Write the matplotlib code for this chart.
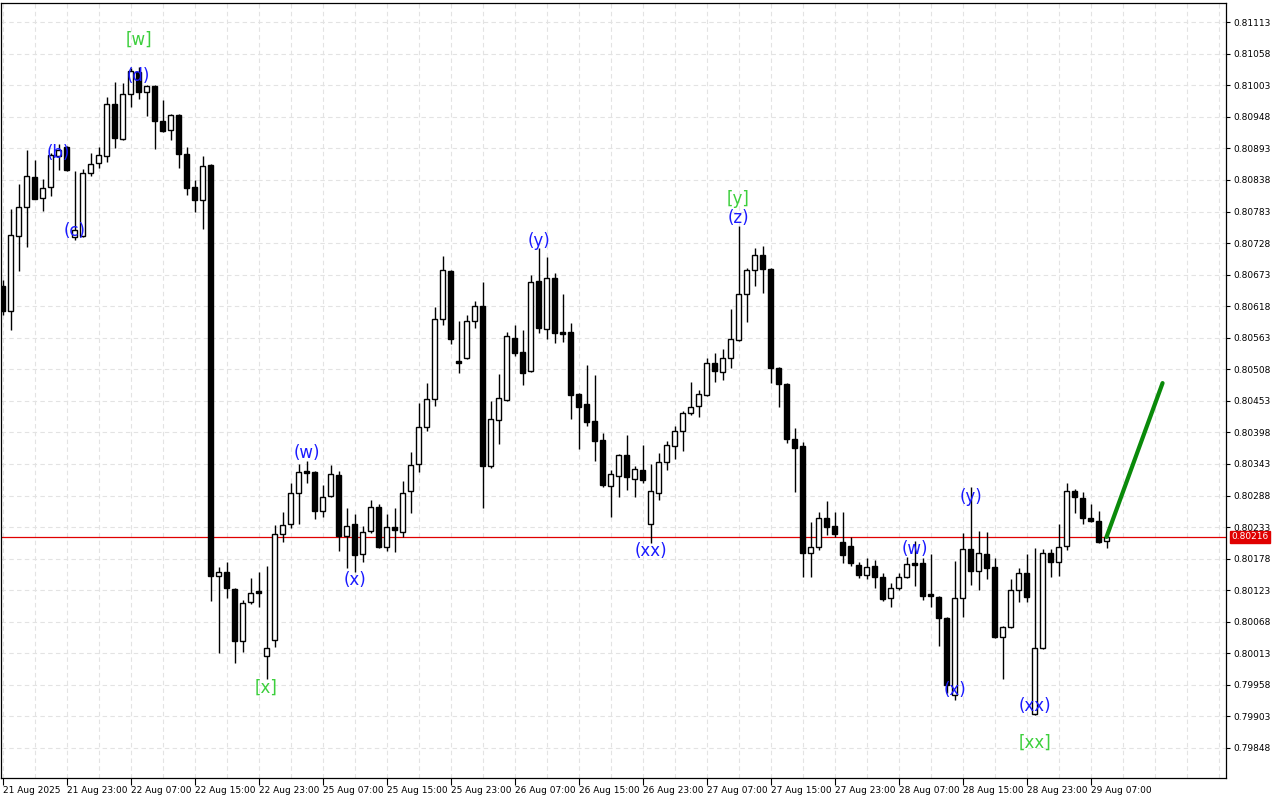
import matplotlib
matplotlib.use("Agg")
import matplotlib.pyplot as plt
import numpy as np

# hourly candles, 21 Aug 15:00 .. 29 Aug 09:00 (prices in points, 1e-5)
opens = [80653, 80609, 80740, 80791, 80843, 80806, 80825, 80879, 80895, 80738,
         80740, 80850, 80867, 80879, 80970, 80909, 80988, 81026, 80991, 81001,
         80940, 80925, 80951, 80883, 80825, 80803, 80864, 80148, 80155, 80125,
         80034, 80102, 80122, 80008, 80036, 80221, 80238, 80292, 80331, 80329,
         80261, 80287, 80324, 80217, 80238, 80186, 80226, 80268, 80198, 80233,
         80224, 80296, 80343, 80407, 80456, 80595, 80679, 80522, 80528, 80592,
         80618, 80339, 80419, 80454, 80562, 80538, 80505, 80662, 80578, 80667,
         80573, 80573, 80465, 80447, 80418, 80385, 80304, 80322, 80359, 80317,
         80332, 80238, 80292, 80346, 80374, 80400, 80432, 80444, 80463, 80519,
         80503, 80528, 80559, 80639, 80681, 80707, 80683, 80510, 80482, 80386,
         80374, 80188, 80198, 80249, 80235, 80207, 80200, 80167, 80149, 80165,
         80146, 80109, 80127, 80146, 80170, 80170, 80116, 80111, 80074, 79940,
         80109, 80195, 80156, 80186, 80163, 80041, 80059, 80123, 80153, 79907,
         80022, 80188, 80172, 80200, 80296, 80284, 80249, 80244, 80209]
highs = [80663, 80787, 80831, 80890, 80873, 80839, 80885, 80900, 80897, 80853,
         80857, 80885, 80895, 80982, 81008, 81007, 81033, 81035, 81003, 81003,
         80977, 80953, 80953, 80895, 80838, 80879, 80866, 80163, 80172, 80127,
         80106, 80144, 80155, 80165, 80237, 80259, 80310, 80343, 80348, 80331,
         80306, 80341, 80331, 80266, 80256, 80235, 80280, 80273, 80256, 80266,
         80313, 80364, 80449, 80484, 80616, 80705, 80681, 80592, 80602, 80627,
         80660, 80453, 80500, 80573, 80585, 80576, 80672, 80719, 80703, 80676,
         80639, 80588, 80467, 80515, 80498, 80397, 80332, 80360, 80393, 80339,
         80376, 80343, 80362, 80383, 80409, 80435, 80486, 80472, 80528, 80536,
         80543, 80613, 80758, 80684, 80719, 80723, 80684, 80512, 80484, 80406,
         80381, 80242, 80259, 80278, 80259, 80259, 80216, 80172, 80179, 80176,
         80153, 80135, 80153, 80181, 80209, 80179, 80186, 80113, 80076, 80174,
         80223, 80303, 80226, 80224, 80179, 80061, 80142, 80162, 80186, 80196,
         80195, 80195, 80238, 80310, 80299, 80294, 80273, 80261, 80218]
lows = [80602, 80576, 80679, 80721, 80805, 80784, 80810, 80855, 80853, 80733,
        80738, 80845, 80859, 80869, 80893, 80907, 80965, 80979, 80949, 80892,
        80921, 80907, 80859, 80812, 80782, 80752, 80104, 80014, 80109, 79996,
        80015, 80099, 80094, 79968, 80024, 80207, 80231, 80238, 80310, 80247,
        80250, 80285, 80191, 80162, 80155, 80172, 80223, 80196, 80191, 80189,
        80216, 80257, 80329, 80400, 80444, 80585, 80552, 80501, 80526, 80580,
        80266, 80336, 80378, 80453, 80531, 80480, 80503, 80571, 80561, 80554,
        80555, 80421, 80369, 80409, 80348, 80303, 80250, 80285, 80298, 80285,
        80310, 80205, 80280, 80332, 80352, 80366, 80428, 80425, 80461, 80486,
        80489, 80510, 80557, 80590, 80653, 80641, 80484, 80442, 80379, 80294,
        80146, 80146, 80193, 80219, 80216, 80170, 80165, 80144, 80142, 80127,
        80104, 80094, 80123, 80144, 80130, 80106, 80094, 80026, 79944, 79932,
        80076, 80132, 80123, 80142, 80040, 79968, 80057, 80102, 80102, 79905,
        80020, 80146, 80148, 80193, 80257, 80238, 80242, 80205, 80196]
closes = [80609, 80742, 80791, 80845, 80805, 80824, 80881, 80890, 80855, 80751,
          80850, 80866, 80881, 80970, 80911, 80988, 81028, 80991, 81001, 80940,
          80923, 80951, 80883, 80824, 80803, 80862, 80148, 80155, 80127, 80034,
          80101, 80118, 80118, 80022, 80221, 80237, 80292, 80329, 80327, 80261,
          80285, 80325, 80217, 80235, 80184, 80224, 80268, 80198, 80233, 80228,
          80292, 80341, 80407, 80456, 80595, 80681, 80561, 80519, 80592, 80618,
          80339, 80421, 80458, 80566, 80536, 80501, 80660, 80580, 80667, 80571,
          80569, 80463, 80442, 80416, 80383, 80306, 80325, 80359, 80320, 80334,
          80315, 80296, 80346, 80376, 80400, 80432, 80442, 80465, 80519, 80505,
          80528, 80561, 80639, 80681, 80707, 80683, 80510, 80482, 80386, 80371,
          80188, 80198, 80249, 80233, 80221, 80184, 80170, 80149, 80163, 80146,
          80108, 80127, 80146, 80169, 80167, 80113, 80113, 80074, 79958, 80109,
          80195, 80156, 80188, 80162, 80041, 80059, 80123, 80153, 80111, 80022,
          80188, 80172, 80198, 80296, 80285, 80249, 80244, 80207, 80216]

last_price = 0.80216
forecast_idx = [138, 145]
forecast_px = [80216, 80484]

# wave labels: (text, candle index, price, colour)
wave_labels = [
    ("(b)", 7, 80885, "blue"), ("(c)", 9, 80749, "blue"), ("(d)", 17, 81019, "blue"),
    ("[w]", 17, 81082, "green"), ("[x]", 33, 79953, "green"), ("(w)", 38, 80362, "blue"),
    ("(x)", 44, 80141, "blue"), ("(y)", 67, 80731, "blue"), ("(xx)", 81, 80191, "blue"),
    ("[y]", 92, 80805, "green"), ("(z)", 92, 80772, "blue"), ("(w)", 114, 80195, "blue"),
    ("(y)", 121, 80285, "blue"), ("(x)", 119, 79949, "blue"), ("(xx)", 129, 79921, "blue"),
    ("[xx]", 129, 79858, "green"),
]

xtick_idx = list(range(0, 137, 8))
xtick_labels = ["21 Aug 2025", "21 Aug 23:00", "22 Aug 07:00", "22 Aug 15:00",
                "22 Aug 23:00", "25 Aug 07:00", "25 Aug 15:00", "25 Aug 23:00",
                "26 Aug 07:00", "26 Aug 15:00", "26 Aug 23:00", "27 Aug 07:00",
                "27 Aug 15:00", "27 Aug 23:00", "28 Aug 07:00", "28 Aug 15:00",
                "28 Aug 23:00", "29 Aug 07:00"]
ytick_vals = [0.81113 - 0.00055 * k for k in range(24)]

o = np.array(opens) / 1e5
h = np.array(highs) / 1e5
l = np.array(lows) / 1e5
c = np.array(closes) / 1e5
x = np.arange(len(o))

fig = plt.figure(figsize=(12.8, 8), dpi=100)
ax = fig.add_axes([0.001, 0.0275, 0.957, 0.9685])

# grid
for v in ytick_vals:
    ax.axhline(v, color="#e3e3e3", lw=0.8, ls=(0, (4, 3)), zorder=0)
for gx in range(0, 156, 4):
    ax.axvline(gx, color="#e3e3e3", lw=0.8, ls=(0, (4, 3)), zorder=0)

ax.axhline(last_price, color="#e00000", lw=0.9, zorder=1)

ax.vlines(x, l, h, color="black", lw=1.0, zorder=2)
up = c >= o
body_bottom = np.minimum(o, c)
body_h = np.maximum(np.abs(c - o), 0.000008)
ax.bar(x[up], body_h[up], bottom=body_bottom[up], width=0.62, color="white",
       edgecolor="black", linewidth=1.0, zorder=3)
ax.bar(x[~up], body_h[~up], bottom=body_bottom[~up], width=0.62, color="black",
       edgecolor="black", linewidth=1.0, zorder=3)

ax.plot(forecast_idx, np.array(forecast_px) / 1e5, color="#0a8a0a", lw=3,
        solid_capstyle="round", zorder=4)

colors = {"blue": "#1a1aff", "green": "#3ccf3c"}
for txt, i, p, col in wave_labels:
    ax.text(i, p / 1e5, txt, color=colors[col], fontsize=12, ha="center",
            va="center", zorder=5)

ax.set_xlim(-0.16, 152.96)
ax.set_ylim(0.797957, 0.811461)

ax.yaxis.tick_right()
ax.set_yticks(ytick_vals)
ax.set_yticklabels([f"{v:.5f}" for v in ytick_vals])
ax.tick_params(axis="y", length=3, labelsize=6.5, pad=2, width=0.8)
ax.set_xticks(xtick_idx)
ax.set_xticklabels(xtick_labels, ha="left")
ax.tick_params(axis="x", length=5, labelsize=6.5, pad=1, width=0.8)

for s in ax.spines.values():
    s.set_color("black")
    s.set_linewidth(0.9)

ax.annotate(f"{last_price:.5f}", xy=(1.0, last_price), xycoords=("axes fraction", "data"),
            xytext=(4, 0), textcoords="offset points", fontsize=6.5, color="white",
            va="center", ha="left",
            bbox=dict(boxstyle="square,pad=0.15", fc="#e00000", ec="#e00000"))

fig.savefig("out.png", dpi=100)
